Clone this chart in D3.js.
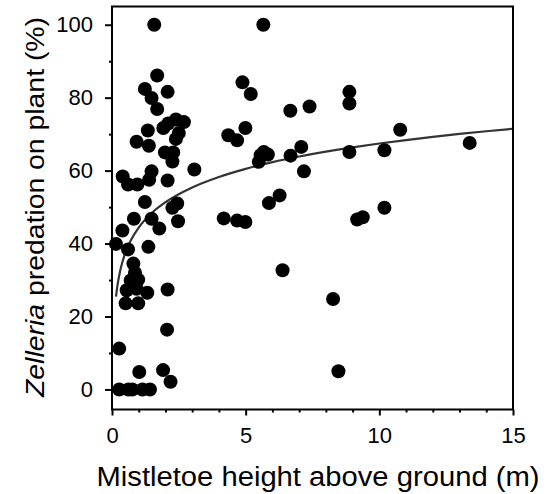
<!DOCTYPE html>
<html><head><meta charset="utf-8">
<script src="https://cdn.jsdelivr.net/npm/d3@7"></script>
<style>body{margin:0;background:#fff}svg{display:block}</style>
</head><body>
<svg id="c" width="554" height="494"></svg>
<script>
const heights = [1.58,5.66,1.69,1.23,1.48,2.08,1.69,4.88,5.19,6.67,1.34,0.92,1.38,1.92,2.10,2.39,2.69,2.50,2.39,1.98,2.29,2.26,4.35,4.68,4.99,3.08,0.40,0.60,0.95,1.39,1.48,2.08,1.23,2.44,
7.39,8.88,8.88,10.78,13.38,5.68,5.83,5.56,5.49,6.68,7.08,7.18,8.88,10.19,5.87,6.27,4.18,4.68,4.99,9.17,9.38,10.19,6.38,8.27,8.47,
2.26,0.82,1.48,2.47,0.39,1.77,0.15,0.60,1.36,0.80,0.86,0.70,0.98,0.55,0.92,1.32,2.08,0.51,0.98,2.06,0.27,1.02,1.91,2.19,0.27,0.61,0.76,1.14,1.42];
const predation = [100,100,86.1,82.4,79.9,81.6,76.9,84.2,81.0,76.4,71.0,67.9,66.8,71.7,72.9,74.0,73.3,70.3,68.7,65.0,65.0,62.5,69.7,68.3,71.7,60.3,58.4,56.2,56.2,57.5,59.8,57.3,51.4,51.0,
77.6,81.6,78.4,71.2,67.6,65.1,64.4,64.2,62.4,64.1,66.5,59.8,65.1,65.6,51.1,53.2,46.9,46.3,45.9,46.6,47.2,49.8,32.7,24.8,5.0,
49.8,46.8,46.8,46.1,43.6,44.1,39.9,38.4,39.1,34.5,32.0,29.9,30.1,27.2,27.6,26.5,27.4,23.6,23.6,16.4,11.2,4.8,5.3,2.1,0,0,0,0,0];
// logarithmic fit: y = a + b ln(x)
const fitA = 44.4, fitB = 10.0;
const fitXs = [0.15,0.2,0.3,0.4,0.5,0.7,1,1.5,2,3,4,5,6,7,8,9,10,11,12,13,14,15];
const xMajor = [0,5,10,15];
const xMinor = [1,2,3,4,6,7,8,9,11,12,13,14];
const yMajor = [0,20,40,60,80,100];
const yMinor = [10,30,50,70,90];
const xTitle = "Mistletoe height above ground (m)";

const svg = d3.select("#c");
const x = d3.scaleLinear().domain([0,15]).range([112,513]);
const y = d3.scaleLinear().domain([-5.5,105]).range([409.5,6.5]);
const font = "Liberation Sans, Arial, sans-serif";

// curve
const line = d3.line().x(d=>x(d)).y(d=>y(fitA+fitB*Math.log(d))).curve(d3.curveMonotoneX);
svg.append("path").datum(fitXs).attr("d",line).attr("fill","none").attr("stroke","#333").attr("stroke-width",2.2);

// points
const pts = heights.map((h,i)=>({h, p: predation[i]}));
svg.append("g").selectAll("circle").data(pts).join("circle")
  .attr("cx",d=>x(d.h)).attr("cy",d=>y(d.p)).attr("r",7).attr("fill","#000");

// frame
svg.append("rect").attr("x",112).attr("y",6.5).attr("width",401).attr("height",403)
  .attr("fill","none").attr("stroke","#000").attr("stroke-width",2);

// x axis
const gx = svg.append("g").attr("transform","translate(0,409.5)");
gx.call(d3.axisBottom(x).tickValues(xMajor).tickSize(6).tickPadding(12).tickFormat(d3.format("d")));
gx.append("g").call(d3.axisBottom(x).tickValues(xMinor).tickSize(3).tickFormat(""));
gx.selectAll(".domain").remove();
gx.selectAll("line").attr("stroke","#000").attr("stroke-width",2);
gx.selectAll("text").attr("font-family",font).attr("font-size",22).attr("fill","#000");

// y axis
const gy = svg.append("g").attr("transform","translate(112,0)");
gy.call(d3.axisLeft(y).tickValues(yMajor).tickSize(7).tickPadding(12).tickFormat(d3.format("d")));
gy.append("g").call(d3.axisLeft(y).tickValues(yMinor).tickSize(3).tickFormat(""));
gy.selectAll(".domain").remove();
gy.selectAll("line").attr("stroke","#000").attr("stroke-width",2);
gy.selectAll("text").attr("font-family",font).attr("font-size",22).attr("fill","#000");

// titles
svg.append("text").attr("x",318).attr("y",486).attr("text-anchor","middle")
  .attr("font-family",font).attr("font-size",27).attr("fill","#000")
  .attr("textLength",443).attr("lengthAdjust","spacingAndGlyphs").text(xTitle);

const yt = svg.append("text").attr("transform","translate(44,207) rotate(-90)").attr("text-anchor","middle")
  .attr("font-family",font).attr("font-size",25).attr("fill","#000")
  .attr("textLength",380).attr("lengthAdjust","spacingAndGlyphs");
yt.append("tspan").attr("font-style","italic").text("Zelleria");
yt.append("tspan").text(" predation on plant (%)");
</script>
</body></html>
